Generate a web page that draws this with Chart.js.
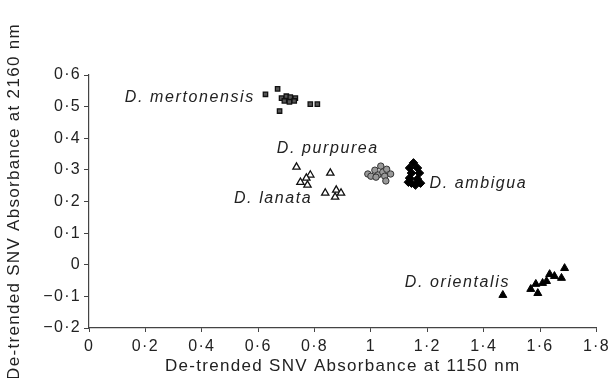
<!DOCTYPE html>
<html>
<head>
<meta charset="utf-8">
<script src="https://cdn.jsdelivr.net/npm/chart.js@4"></script>
<style>
  body { margin: 0; background: #fff; }
  canvas { display: block; }
</style>
</head>
<body>
<canvas id="chart" width="613" height="378"></canvas>
<script>
// values: x = absorbance at 1150 nm, y = absorbance at 2160 nm
var mertonensisX = [0.626, 0.669, 0.683, 0.700, 0.714, 0.732, 0.693, 0.711, 0.728, 0.676, 0.785, 0.810];
var mertonensisY = [0.539, 0.556, 0.527, 0.533, 0.530, 0.527, 0.518, 0.515, 0.518, 0.486, 0.508, 0.508];

var lanataX = [0.736, 0.785, 0.771, 0.750, 0.775, 0.856, 0.838, 0.877, 0.873, 0.894];
var lanataY = [0.309, 0.284, 0.274, 0.261, 0.252, 0.290, 0.227, 0.236, 0.214, 0.227];

var purpureaX = [0.989, 1.000, 1.014, 1.025, 1.035, 1.042, 1.049, 1.056, 1.070, 1.053, 1.018];
var purpureaY = [0.287, 0.280, 0.299, 0.284, 0.312, 0.293, 0.280, 0.302, 0.287, 0.265, 0.277];

var ambiguaX = [1.151, 1.137, 1.165, 1.144, 1.172, 1.137, 1.165, 1.144, 1.176, 1.158, 1.133];
var ambiguaY = [0.322, 0.306, 0.306, 0.290, 0.290, 0.274, 0.271, 0.258, 0.258, 0.252, 0.261];

var orientalisX = [1.468, 1.567, 1.585, 1.592, 1.609, 1.623, 1.634, 1.651, 1.676, 1.687];
var orientalisY = [-0.096, -0.077, -0.061, -0.090, -0.058, -0.052, -0.030, -0.036, -0.042, -0.011];

// species labels placed in data units (left edge, vertical centre)
var labelTexts = ['D. mertonensis', 'D. purpurea', 'D. lanata', 'D. ambigua', 'D. orientalis'];
var labelX = [0.127, 0.666, 0.514, 1.208, 1.120];
var labelY = [0.530, 0.369, 0.210, 0.258, -0.055];

var xTitle = 'De-trended SNV Absorbance at 1150 nm';
var yTitle = 'De-trended SNV Absorbance at 2160 nm';

function pts(xs, ys) {
  return xs.map(function(x, i) { return {x: x, y: ys[i]}; });
}

function fmt(v) {
  var s = String(Number(v.toFixed(1)));
  return s.replace('.', '\u00b7').replace('-', '\u2212');
}

var font = 'Liberation Sans, Arial, sans-serif';
var ink = '#222';

var speciesLabels = {
  id: 'speciesLabels',
  afterDatasetsDraw: function(chart) {
    var ctx = chart.ctx;
    var xs = chart.scales.x, ys = chart.scales.y;
    ctx.save();
    ctx.font = 'italic 16px ' + font;
    ctx.fillStyle = ink;
    ctx.textAlign = 'left';
    ctx.textBaseline = 'middle';
    ctx.letterSpacing = '1.6px';
    labelTexts.forEach(function(t, i) {
      ctx.fillText(t, xs.getPixelForValue(labelX[i]), ys.getPixelForValue(labelY[i]));
    });
    ctx.restore();
  }
};

var spacing = {
  id: 'spacing',
  beforeDraw: function(chart) { chart.ctx.letterSpacing = '1.3px'; }
};

new Chart(document.getElementById('chart'), {
  type: 'scatter',
  data: {
    datasets: [
      {label: 'D. mertonensis', data: pts(mertonensisX, mertonensisY), pointStyle: 'rect',
       pointRadius: 3.1, backgroundColor: '#555', borderColor: '#111', borderWidth: 1.3},
      {label: 'D. lanata', data: pts(lanataX, lanataY), pointStyle: 'triangle',
       pointRadius: 4.2, backgroundColor: '#fff', borderColor: '#111', borderWidth: 1.3},
      {label: 'D. purpurea', data: pts(purpureaX, purpureaY), pointStyle: 'circle',
       pointRadius: 3.2, backgroundColor: '#999', borderColor: '#333', borderWidth: 1},
      {label: 'D. ambigua', data: pts(ambiguaX, ambiguaY), pointStyle: 'rectRot',
       pointRadius: 4.3, backgroundColor: '#000', borderColor: '#000', borderWidth: 1},
      {label: 'D. orientalis', data: pts(orientalisX, orientalisY), pointStyle: 'triangle',
       pointRadius: 4.6, backgroundColor: '#000', borderColor: '#000', borderWidth: 1}
    ]
  },
  options: {
    responsive: false,
    animation: false,
    events: [],
    layout: {padding: {top: 75, right: 13, left: 0, bottom: 0}},
    plugins: {legend: {display: false}, tooltip: {enabled: false}},
    scales: {
      x: {
        type: 'linear', min: 0, max: 1.8,
        afterFit: function(s) { s.height = 50; },
        border: {color: '#444', width: 1.2},
        grid: {drawOnChartArea: false, tickLength: 4, color: '#444'},
        ticks: {stepSize: 0.2, color: ink, padding: 5, maxRotation: 0,
                font: {family: font, size: 16}, callback: fmt},
        title: {display: true, text: xTitle, color: ink, padding: {top: 0, bottom: 1},
                font: {family: font, size: 17}}
      },
      y: {
        type: 'linear', min: -0.2, max: 0.6,
        afterFit: function(s) { s.width = 89; },
        border: {color: '#444', width: 1.2},
        grid: {drawOnChartArea: false, tickLength: 5, color: '#444'},
        ticks: {stepSize: 0.1, color: ink, padding: 3,
                font: {family: font, size: 16}, callback: fmt},
        title: {display: true, text: yTitle, color: ink, padding: {top: 4, bottom: 0},
                font: {family: font, size: 17}}
      }
    }
  },
  plugins: [spacing, speciesLabels]
});
</script>
</body>
</html>
